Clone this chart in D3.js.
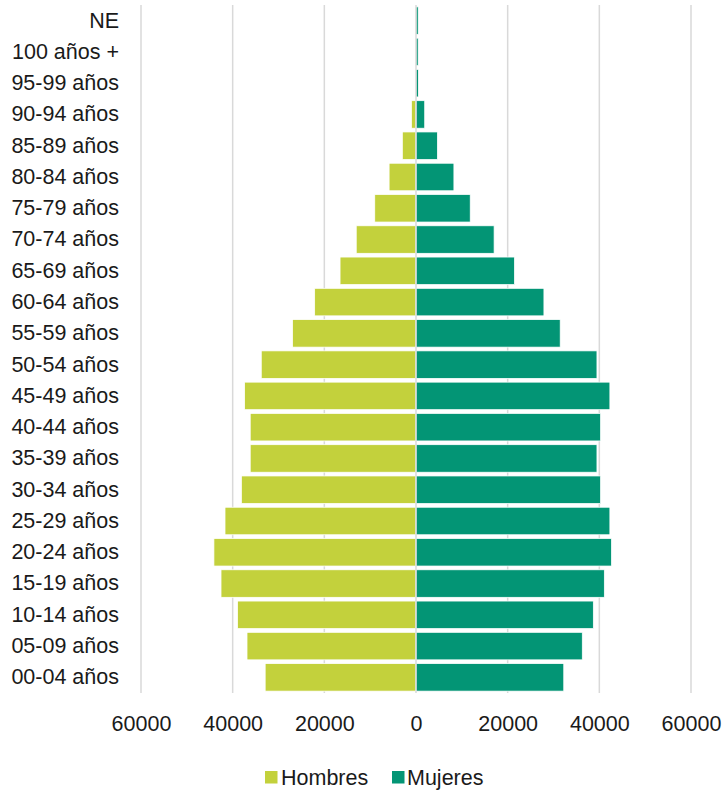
<!DOCTYPE html>
<html>
<head>
<meta charset="utf-8">
<script src="https://cdn.jsdelivr.net/npm/d3@7"></script>
<style>
  html, body { margin: 0; padding: 0; background: #fff; }
  svg { display: block; }
  text { font-family: "Liberation Sans", Arial, sans-serif; fill: #1a1a1a; }
</style>
</head>
<body>
<svg id="chart" width="723" height="790"></svg>
<script>
const categories = ["NE", "100 años +", "95-99 años", "90-94 años", "85-89 años", "80-84 años",
  "75-79 años", "70-74 años", "65-69 años", "60-64 años", "55-59 años", "50-54 años",
  "45-49 años", "40-44 años", "35-39 años", "30-34 años", "25-29 años", "20-24 años",
  "15-19 años", "10-14 años", "05-09 años", "00-04 años"];
const hombres = [50, 40, 100, 1000, 2980, 5870, 9000, 13040, 16570, 22110, 26930, 33760,
  37390, 36170, 36170, 38100, 41670, 44090, 42540, 38930, 36870, 32910];
const mujeres = [480, 470, 520, 1900, 4670, 8270, 11830, 17040, 21480, 27910, 31460, 39480,
  42300, 40280, 39480, 40280, 42300, 42650, 41090, 38690, 36280, 32240];
const xTicks = [-60000, -40000, -20000, 0, 20000, 40000, 60000];
const seriesNames = ["Hombres", "Mujeres"];
const seriesColors = ["#C3D13C", "#039575"];

const svg = d3.select("#chart");
const x = d3.scaleLinear().domain([-60000, 60000]).range([141, 691]);
const y = d3.scaleBand().domain(categories).range([5, 693]).paddingInner(0.12).paddingOuter(0.06);

// gridlines
svg.append("g").selectAll("line").data(xTicks.filter(d => d !== 0)).join("line")
  .attr("x1", d => x(d)).attr("x2", d => x(d))
  .attr("y1", 5).attr("y2", 693)
  .attr("stroke", "#d9d9d9").attr("stroke-width", 1.5);

// bars
const data = categories.map((c, i) => ({ c, h: hombres[i], m: mujeres[i] }));
svg.append("g").selectAll("rect").data(data).join("rect")
  .attr("x", d => x(-d.h)).attr("width", d => x(0) - x(-d.h))
  .attr("y", d => y(d.c)).attr("height", y.bandwidth())
  .attr("fill", seriesColors[0]).attr("stroke", "#fff").attr("stroke-width", 0.75);
svg.append("g").selectAll("rect").data(data).join("rect")
  .attr("x", x(0)).attr("width", d => x(d.m) - x(0))
  .attr("y", d => y(d.c)).attr("height", y.bandwidth())
  .attr("fill", seriesColors[1]).attr("stroke", "#fff").attr("stroke-width", 0.75);

// zero axis line
svg.append("line")
  .attr("x1", x(0)).attr("x2", x(0)).attr("y1", 5).attr("y2", 693)
  .attr("stroke", "#d9d9d9").attr("stroke-width", 1.5);

// y labels
const yAxis = d3.axisLeft(y).tickSize(0).tickPadding(0);
const yg = svg.append("g").attr("transform", "translate(119,0)").call(yAxis);
yg.select(".domain").remove();
yg.selectAll("text").attr("font-size", 21.5).attr("font-family", "Liberation Sans, Arial, sans-serif")
  .attr("fill", "#1a1a1a");

// x labels
const xAxis = d3.axisBottom(x).tickValues(xTicks).tickSize(0).tickPadding(0).tickFormat(d => Math.abs(d));
const xg = svg.append("g").attr("transform", "translate(0,716)").call(xAxis);
xg.select(".domain").remove();
xg.selectAll("text").attr("font-size", 21.5).attr("font-family", "Liberation Sans, Arial, sans-serif")
  .attr("fill", "#1a1a1a");

// legend
const legendItems = [
  { name: seriesNames[0], color: seriesColors[0], sx: 265, tx: 281 },
  { name: seriesNames[1], color: seriesColors[1], sx: 392, tx: 407 }
];
const lg = svg.append("g");
legendItems.forEach(it => {
  lg.append("rect").attr("x", it.sx).attr("y", 771).attr("width", 12.5).attr("height", 12.5).attr("fill", it.color);
  lg.append("text").attr("x", it.tx).attr("y", 777.5).attr("dy", "0.35em")
    .attr("font-size", 21.5).text(it.name);
});
</script>
</body>
</html>
